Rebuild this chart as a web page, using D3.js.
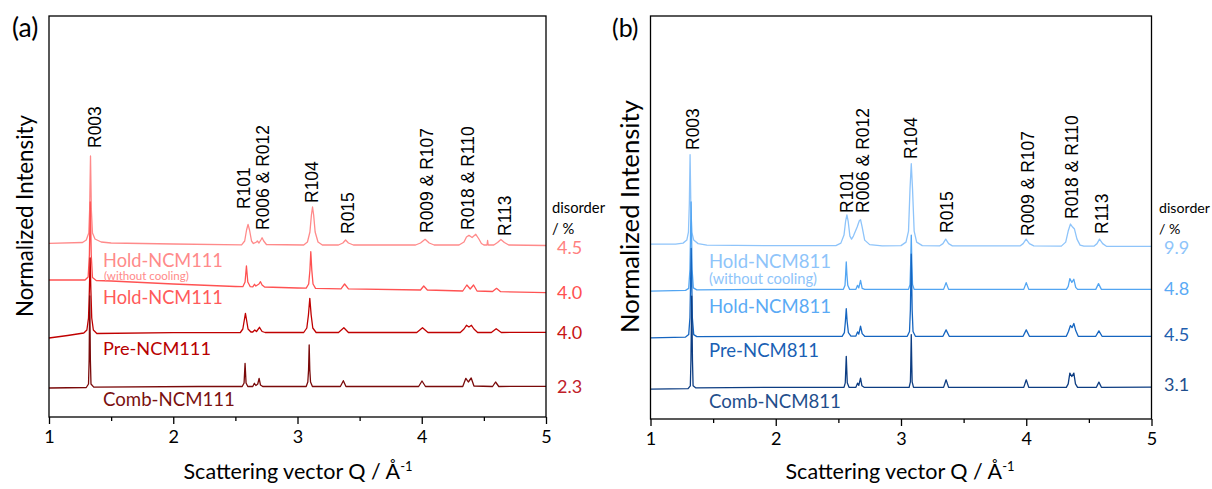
<!DOCTYPE html>
<html>
<head>
<meta charset="utf-8">
<script src="https://cdn.jsdelivr.net/npm/d3@7"></script>
<style>
  html, body { margin: 0; padding: 0; background: #fff; }
  svg { display: block; }
  .lbl { font-family: Lato, "Open Sans", sans-serif; }
  .peak { font-family: "Liberation Sans", Arial, sans-serif; }
</style>
</head>
<body>
<svg id="chart" width="1212" height="489"></svg>
<script>
// ---- x-axis ticks ----
const qTicks = [1, 2, 3, 4, 5];
const qMinorTicks = [1.5, 2.5, 3.5, 4.5];

// ---- NCM111 patterns (Q / Å^-1, stacked normalized intensity) ----
const ncm111HoldNoCool = [[1.00,173.7],[1.27,174.5],[1.30,177],[1.32,184],[1.327,207],[1.334,261],[1.341,207],[1.35,184],[1.37,178],[1.42,175],[1.5,174],[2.0,173],[2.55,172.2],[2.575,176],[2.59,187],[2.602,192.7],[2.614,187],[2.63,176],[2.645,173.5],[2.67,175],[2.677,176],[2.69,174],[2.705,177],[2.715,179.3],[2.728,176],[2.75,172.5],[3.05,172],[3.08,175],[3.1,185],[3.112,202],[3.121,210],[3.13,202],[3.142,185],[3.165,175],[3.2,172],[3.33,172],[3.365,174],[3.387,177],[3.41,174],[3.45,172],[3.95,172],[3.99,174],[4.027,177.7],[4.06,174],[4.1,172],[4.3,172],[4.34,175],[4.36,180],[4.38,181.7],[4.405,179.5],[4.435,182.7],[4.46,178],[4.48,173.5],[4.5,172],[4.525,172],[4.53,176.5],[4.535,172],[4.58,172],[4.61,174.5],[4.637,177.5],[4.665,174.5],[4.7,172],[5.0,171.5]];
const ncm111Hold = [[1.0,137],[1.29,137],[1.315,140],[1.325,162],[1.332,215],[1.34,162],[1.35,139.5],[1.38,136.5],[1.5,136],[2.0,133],[2.5,130.5],[2.56,130.3],[2.578,135],[2.589,151],[2.6,135],[2.62,130.3],[2.64,130.2],[2.654,132.7],[2.665,131],[2.69,133],[2.702,135.3],[2.715,132],[2.735,130],[3.0,129],[3.07,128.8],[3.09,133],[3.1,147],[3.107,165.3],[3.115,147],[3.125,133],[3.145,128.7],[3.35,128.2],[3.379,133],[3.41,128.1],[3.99,127],[4.016,131],[4.045,127],[4.33,126],[4.363,132],[4.39,128],[4.417,132],[4.445,126],[4.57,125.5],[4.602,128.7],[4.635,125.3],[5.0,124.3]];
const ncm111Pre = [[1.0,79],[1.15,81.5],[1.28,84],[1.305,87],[1.318,99],[1.325,127],[1.331,159],[1.337,127],[1.344,99],[1.357,87],[1.385,83.5],[2.0,84.3],[2.54,84.5],[2.56,88],[2.572,97],[2.581,103.7],[2.59,97],[2.602,88],[2.625,85],[2.64,85],[2.656,87],[2.67,85.5],[2.694,89.7],[2.715,85.5],[2.74,84.5],[3.05,84.5],[3.075,89],[3.088,102],[3.099,118.7],[3.11,102],[3.123,89],[3.15,84.5],[3.33,84.5],[3.373,89.3],[3.41,84.5],[3.96,84.5],[4.006,89.3],[4.05,84.5],[4.31,84.5],[4.34,88],[4.36,91.7],[4.38,90],[4.4,91.7],[4.42,88],[4.45,84.5],[4.56,84.5],[4.599,88.3],[4.64,84.5],[5.0,84.7]];
const ncm111Comb = [[1.0,29],[1.3,29.5],[1.318,33],[1.323,57],[1.328,121],[1.333,57],[1.338,33],[1.36,29.8],[2.2,30.5],[2.555,30.5],[2.57,34],[2.578,53.7],[2.586,34],[2.6,30.5],[2.64,30.5],[2.653,33.7],[2.665,31.5],[2.68,33],[2.691,38.7],[2.702,32],[2.72,30.5],[3.07,30.5],[3.083,35],[3.089,47],[3.094,72],[3.099,47],[3.105,35],[3.12,30.5],[3.345,30.5],[3.369,36.3],[3.39,30.5],[3.975,30.5],[4.002,36],[4.03,30.5],[4.33,30.5],[4.355,38.7],[4.375,35],[4.398,39],[4.42,31],[4.57,30.5],[4.594,35],[4.62,30.5],[5.0,30.7]];

// ---- NCM811 patterns ----
const ncm811HoldNoCool = [[1.0,174],[1.2,174],[1.26,175],[1.29,178],[1.303,186],[1.31,214],[1.316,263],[1.322,214],[1.33,186],[1.345,178],[1.38,174.5],[1.45,173],[2.0,172.5],[2.48,172.5],[2.52,175],[2.545,183],[2.558,197],[2.568,203],[2.578,197],[2.592,182],[2.605,179],[2.62,182],[2.65,191],[2.668,197.5],[2.677,198.3],[2.69,191],[2.71,178],[2.75,173.5],[2.85,172.3],[3.0,172.5],[3.04,176],[3.06,187],[3.072,229],[3.082,254],[3.092,229],[3.105,187],[3.125,176],[3.17,172.5],[3.31,172.3],[3.335,174.5],[3.357,179],[3.38,174.5],[3.41,172.3],[3.95,172.2],[3.975,174.5],[3.999,179],[4.025,174.5],[4.06,172.2],[4.28,172],[4.315,176],[4.335,187],[4.353,194],[4.37,191],[4.385,189],[4.405,179],[4.43,173],[4.46,172],[4.54,172],[4.565,174.5],[4.585,179],[4.61,174.5],[4.64,171.8],[5.0,171.7]];
const ncm811Hold = [[1.0,127.3],[1.28,128],[1.305,130],[1.315,149],[1.324,216],[1.332,149],[1.342,130.5],[1.37,128.5],[2.0,129],[2.54,129],[2.553,133],[2.558,144],[2.563,156.3],[2.568,144],[2.575,133],[2.59,129],[2.64,129],[2.653,133],[2.663,130.5],[2.677,138],[2.69,130],[2.71,129],[3.06,129],[3.072,134],[3.077,154],[3.082,183],[3.087,154],[3.092,134],[3.105,129],[3.34,129],[3.36,135.7],[3.38,129],[3.98,129],[4.0,135.7],[4.02,129],[4.32,129],[4.335,132],[4.348,139.7],[4.364,136],[4.38,139],[4.395,131],[4.41,129],[4.555,129],[4.577,134.7],[4.6,129],[5.0,129]];
const ncm811Pre = [[1.0,80.7],[1.28,81.5],[1.305,84],[1.315,101],[1.325,169.7],[1.334,101],[1.345,84],[1.37,82],[2.0,82.3],[2.53,82.3],[2.548,86],[2.556,97],[2.563,109.7],[2.57,97],[2.58,86],[2.6,82.5],[2.64,82.5],[2.653,86.7],[2.663,84.5],[2.677,92.3],[2.69,85],[2.71,82.3],[3.05,82.3],[3.068,87],[3.075,109],[3.082,164],[3.089,109],[3.096,87],[3.115,82.3],[3.335,82.3],[3.36,88.7],[3.385,82.3],[3.975,82.3],[4.0,88.7],[4.025,82.3],[4.32,82.3],[4.337,87],[4.353,93],[4.366,91],[4.38,95],[4.395,88],[4.415,82.3],[4.555,82.3],[4.58,87.7],[4.605,82.3],[5.0,82.3]];
const ncm811Comb = [[1.0,29.7],[1.3,30.2],[1.318,33],[1.323,59],[1.329,122.3],[1.335,59],[1.34,33],[1.36,31],[2.0,31.5],[2.545,31.5],[2.555,36],[2.559,49],[2.563,62.3],[2.567,49],[2.571,36],[2.585,31.5],[2.64,31.5],[2.653,35.7],[2.663,33.5],[2.677,40.7],[2.688,33],[2.705,31.5],[3.065,31.5],[3.075,37],[3.078,54],[3.082,84],[3.086,54],[3.089,37],[3.1,31.5],[3.34,31.5],[3.36,39],[3.38,31.5],[3.98,31.5],[4.0,39],[4.02,31.5],[4.32,31.5],[4.335,35],[4.348,45.7],[4.364,42.3],[4.38,45.7],[4.393,35],[4.41,31.5],[4.56,31.5],[4.58,36.7],[4.6,31.5],[5.0,31.7]];

// ---- sample names and cation disorder (%) ----
const samples111 = ["Hold-NCM111", "Hold-NCM111", "Pre-NCM111", "Comb-NCM111"];
const samples811 = ["Hold-NCM811", "Hold-NCM811", "Pre-NCM811", "Comb-NCM811"];
const disorder111 = ["4.5", "4.0", "4.0", "2.3"];
const disorder811 = ["9.9", "4.8", "4.5", "3.1"];

// ---- reflection labels and their Q positions ----
const reflections = ["R003", "R101", "R006 & R012", "R104", "R015", "R009 & R107", "R018 & R110", "R113"];
const reflQ111 = [1.371, 2.573, 2.726, 3.113, 3.403, 4.040, 4.375, 4.673];
const reflQ811 = [1.340, 2.568, 2.699, 3.082, 3.370, 4.010, 4.369, 4.601];

// ---------------- layout ----------------
const panels = [
  {
    letter: "(a)", letterX: 12,
    x0: 49, x1: 546, top: 16, bottom: 417,
    series: [ncm111HoldNoCool, ncm111Hold, ncm111Pre, ncm111Comb],
    colors: ["#ff8a8a", "#ff5252", "#c00000", "#7a0a0a"],
    textColors: ["#ff8a8a", "#ff5a5a", "#b80000", "#7a1010"],
    valueColors: ["#ff8080", "#ff5050", "#c81414", "#c0202a"],
    names: samples111, values: disorder111,
    reflQ: reflQ111,
    reflEnd: [148, 209, 230, 203, 234, 233, 230, 236],
    nameX: 103, nameY: [267, 304, 355, 406], nameW: [120, 120, 108, 132],
    sub: { x: 104, y: 280, w: 85 },
    valX: 557, valY: [247, 292, 332, 386],
    discX: 552, discW: 53,
    yTitle: { cx: 24, cy: 216, w: 202 },
    xTitleCx: 298
  },
  {
    letter: "(b)", letterX: 612,
    x0: 650.5, x1: 1151.5, top: 16, bottom: 419,
    series: [ncm811HoldNoCool, ncm811Hold, ncm811Pre, ncm811Comb],
    colors: ["#8ec4fa", "#52a5f2", "#1565c0", "#0d3d82"],
    textColors: ["#8ec4fa", "#5aaaf5", "#1a5fb4", "#1f4e8c"],
    valueColors: ["#8ec4fa", "#5aaaf5", "#1f5faf", "#1f4e8c"],
    names: samples811, values: disorder811,
    reflQ: reflQ811,
    reflEnd: [150, 213, 213, 159, 233, 236, 219, 234],
    nameX: 709, nameY: [268, 313, 357, 408], nameW: [122, 122, 110, 132],
    sub: { x: 709, y: 284, w: 108 },
    valX: 1164, valY: [247, 288, 334, 384],
    discX: 1159, discW: 51,
    yTitle: { cx: 629, cy: 216.5, w: 233 },
    xTitleCx: 900
  }
];

const svg = d3.select("#chart");

// scale a text element's font size so its rendered width matches w
function fitWidth(sel, w) {
  const node = sel.node();
  const fs = parseFloat(sel.attr("font-size"));
  const len = node.getComputedTextLength();
  if (len > 0) sel.attr("font-size", (fs * w / len).toFixed(2));
  return sel;
}

panels.forEach(p => {
  const x = d3.scaleLinear().domain([1, 5]).range([p.x0, p.x1]);
  const y = d3.scaleLinear().domain([0, 400]).range([p.bottom, p.bottom - 400 * (p.bottom - p.top) / 401]);
  const g = svg.append("g");

  // patterns
  const line = d3.line().x(d => x(d[0])).y(d => y(d[1]));
  p.series.forEach((s, i) => {
    g.append("path")
      .datum(s)
      .attr("d", line)
      .attr("fill", "none")
      .attr("stroke", p.colors[i])
      .attr("stroke-width", 1.3)
      .attr("stroke-linejoin", "round");
  });

  // frame
  g.append("rect")
    .attr("x", p.x0).attr("y", p.top)
    .attr("width", p.x1 - p.x0).attr("height", p.bottom - p.top)
    .attr("fill", "none").attr("stroke", "#000").attr("stroke-width", 1.3);

  // bottom axis with major and minor ticks
  const axis = g.append("g").attr("transform", `translate(0,${p.bottom})`)
    .call(d3.axisBottom(x).tickValues(qTicks).tickFormat(d3.format("d")).tickSize(7).tickPadding(6));
  axis.select(".domain").remove();
  axis.selectAll(".tick line").attr("stroke", "#000").attr("stroke-width", 1.3);
  axis.selectAll(".tick text")
    .attr("class", "lbl").attr("font-size", 18).attr("fill", "#000");
  g.append("g").attr("transform", `translate(0,${p.bottom})`)
    .call(d3.axisBottom(x).tickValues(qMinorTicks).tickFormat("").tickSize(4))
    .call(a => a.select(".domain").remove())
    .selectAll(".tick line").attr("stroke", "#000").attr("stroke-width", 1.3);

  // axis titles
  const xt = g.append("text").attr("class", "lbl")
    .attr("x", p.xTitleCx).attr("y", 479).attr("text-anchor", "middle")
    .attr("font-size", 20).attr("fill", "#000");
  xt.append("tspan").text("Scattering vector Q / Å");
  xt.append("tspan").attr("dy", -8).attr("font-size", 13).text("-1");
  fitWidth(xt, 230);

  const yt = g.append("text").attr("class", "lbl")
    .attr("transform", `translate(${p.yTitle.cx},${p.yTitle.cy}) rotate(-90)`)
    .attr("text-anchor", "middle").attr("dominant-baseline", "central")
    .attr("font-size", 24).attr("fill", "#000")
    .text("Normalized Intensity");
  fitWidth(yt, p.yTitle.w);

  // panel letter
  const lt = g.append("text").attr("class", "lbl")
    .attr("x", p.letterX).attr("y", 37)
    .attr("font-size", 24).attr("fill", "#000").text(p.letter);
  fitWidth(lt, 26.5);

  // reflection labels
  reflections.forEach((r, i) => {
    g.append("text").attr("class", "peak")
      .attr("transform", `translate(${x(p.reflQ[i])},${p.reflEnd[i]}) rotate(-90)`)
      .attr("dominant-baseline", "central")
      .attr("font-size", 17.5).attr("fill", "#000")
      .text(r);
  });

  // sample names
  p.names.forEach((n, i) => {
    const t = g.append("text").attr("class", "lbl")
      .attr("x", p.nameX).attr("y", p.nameY[i])
      .attr("font-size", 20).attr("fill", p.textColors[i]).text(n);
    fitWidth(t, p.nameW[i]);
  });
  const st = g.append("text").attr("class", "lbl")
    .attr("x", p.sub.x).attr("y", p.sub.y)
    .attr("font-size", 14).attr("fill", p.textColors[0]).text("(without cooling)");
  fitWidth(st, p.sub.w);

  // disorder column
  const d1 = g.append("text").attr("class", "lbl")
    .attr("x", p.discX).attr("y", 213)
    .attr("font-size", 16).attr("fill", "#000").text("disorder");
  fitWidth(d1, p.discW);
  g.append("text").attr("class", "lbl")
    .attr("x", p.discX).attr("y", 234)
    .attr("font-size", d1.attr("font-size")).attr("fill", "#000").text("/ %");
  p.values.forEach((v, i) => {
    g.append("text").attr("class", "lbl")
      .attr("x", p.valX).attr("y", p.valY[i]).attr("dominant-baseline", "central")
      .attr("font-size", 18).attr("fill", p.valueColors[i]).text(v);
  });
});
</script>
</body>
</html>
